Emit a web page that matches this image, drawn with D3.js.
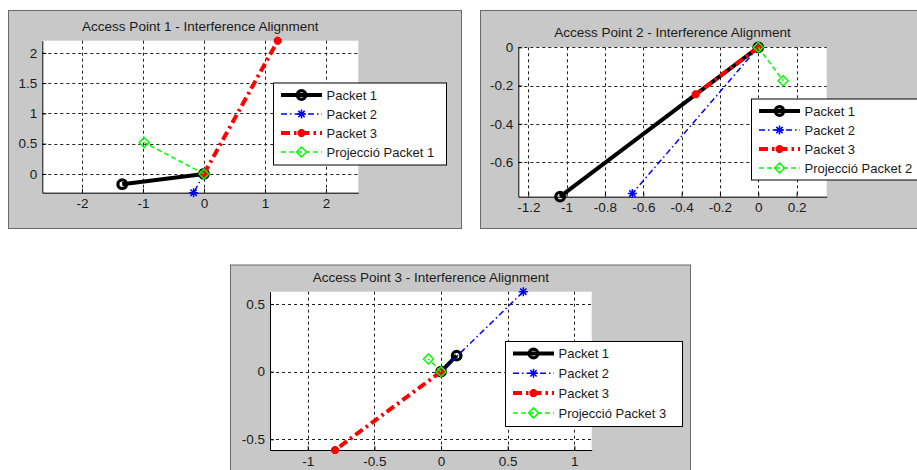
<!DOCTYPE html>
<html>
<head>
<meta charset="utf-8">
<script src="https://cdn.jsdelivr.net/npm/d3@7"></script>
<style>
  body { margin: 0; background: #fff; }
  svg text { font-family: "Liberation Sans", Arial, sans-serif; fill: #1a1a1a; }
</style>
</head>
<body>
<svg id="chart" width="917" height="470"></svg>
<script>
// vector end points (every vector starts at the origin)
// order: Packet 1, Packet 2, Packet 3, Projecció
let ap1X = [-1.34, -0.17, 1.21, -0.98];
let ap1Y = [-0.17, -0.31, 2.2, 0.52];
let ap2X = [-1.034, -0.657, -0.327, 0.13];
let ap2Y = [-0.781, -0.764, -0.246, -0.175];
let ap3X = [0.117, 0.617, -0.795, -0.095];
let ap3Y = [0.118, 0.591, -0.579, 0.094];

// axis limits and ticks
let ap1XLim = [-2.65, 2.53], ap1YLim = [-0.31, 2.2];
let ap2XLim = [-1.252, 0.357], ap2YLim = [-0.781, 0];
let ap3XLim = [-1.283, 1.13], ap3YLim = [-0.579, 0.591];
let ap1XTicks = [-2, -1, 0, 1, 2], ap1YTicks = [0, 0.5, 1, 1.5, 2];
let ap2XTicks = [-1.2, -1, -0.8, -0.6, -0.4, -0.2, 0, 0.2], ap2YTicks = [-0.6, -0.4, -0.2, 0];
let ap3XTicks = [-1, -0.5, 0, 0.5, 1], ap3YTicks = [-0.5, 0, 0.5];

let seriesNames = ["Packet 1", "Packet 2", "Packet 3"];
let projNames = ["Projecció Packet 1", "Projecció Packet 2", "Projecció Packet 3"];
let titles = ["Access Point 1 - Interference Alignment", "Access Point 2 - Interference Alignment", "Access Point 3 - Interference Alignment"];

let styles = [
    {color: "#000000", width: 4, dash: null, marker: "circle"},
    {color: "#0000ff", width: 1.5, dash: "6,3,1.5,3", marker: "star"},
    {color: "#ff0000", width: 4, dash: "9,4,2.5,4", marker: "star"},
    {color: "#00ff00", width: 1.5, dash: "5,3", marker: "diamond"}
];

// layout: outer box, plot rect, legend rect  (x, y, w, h)
let panels = [
    {title: titles[0], xs: ap1X, ys: ap1Y, xLim: ap1XLim, yLim: ap1YLim, xTicks: ap1XTicks, yTicks: ap1YTicks, proj: projNames[0],
     box: [8, 10, 453, 218], plot: [42.3, 40.7, 316, 152], legend: [273, 82.5, 173, 82], gap: 19},
    {title: titles[1], xs: ap2X, ys: ap2Y, xLim: ap2XLim, yLim: ap2YLim, xTicks: ap2XTicks, yTicks: ap2YTicks, proj: projNames[1],
     box: [480, 10, 450, 218], plot: [518.3, 47.3, 308.4, 149.4], legend: [751, 98.5, 173, 81], gap: 19},
    {title: titles[2], xs: ap3X, ys: ap3Y, xLim: ap3XLim, yLim: ap3YLim, xTicks: ap3XTicks, yTicks: ap3YTicks, proj: projNames[2],
     box: [230, 264.5, 460, 230], plot: [270, 291.7, 321.7, 158.3], legend: [505, 341, 177, 85], gap: 19.8}
];

let svg = d3.select("#chart");

function drawMarker(g, kind, st, x, y){
    if(kind == "circle"){
        g.append("circle").attr("cx", x).attr("cy", y).attr("r", 4.3)
            .attr("fill", "none").attr("stroke", st.color).attr("stroke-width", 3.2);
    }else if(kind == "diamond"){
        let s = 5;
        g.append("path").attr("d", `M${x},${y-s}L${x+s},${y}L${x},${y+s}L${x-s},${y}Z`)
            .attr("fill", "none").attr("stroke", st.color).attr("stroke-width", 1.5);
    }else{
        let thick = st.width > 2;
        let s = thick ? 4 : 4.5, a = s * 0.7;
        g.append("path")
            .attr("d", `M${x-s},${y}H${x+s}M${x},${y-s}V${y+s}M${x-a},${y-a}L${x+a},${y+a}M${x-a},${y+a}L${x+a},${y-a}`)
            .attr("fill", "none").attr("stroke", st.color).attr("stroke-width", thick ? 3.5 : 1.5);
    }
}

function drawPanel(p){
    let g = svg.append("g");
    // grey figure box
    g.append("rect").attr("x", p.box[0] + 0.5).attr("y", p.box[1] + 0.5)
        .attr("width", p.box[2]).attr("height", p.box[3])
        .attr("fill", "#c8c8c8").attr("stroke", "#6a6a6a");

    let [px, py, pw, ph] = p.plot;
    let x = d3.scaleLinear().domain(p.xLim).range([px, px + pw]);
    let y = d3.scaleLinear().domain(p.yLim).range([py + ph, py]);

    g.append("rect").attr("x", px).attr("y", py).attr("width", pw).attr("height", ph).attr("fill", "#fff");

    // dotted grid
    g.append("g").selectAll("line").data(p.xTicks).join("line")
        .attr("x1", d => Math.round(x(d)) + 0.5).attr("x2", d => Math.round(x(d)) + 0.5)
        .attr("y1", py).attr("y2", py + ph)
        .attr("stroke", "#222").attr("stroke-dasharray", "3,3");
    g.append("g").selectAll("line").data(p.yTicks).join("line")
        .attr("y1", d => Math.round(y(d)) + 0.5).attr("y2", d => Math.round(y(d)) + 0.5)
        .attr("x1", px).attr("x2", px + pw)
        .attr("stroke", "#222").attr("stroke-dasharray", "3,3");

    // axes, ticks pointing inward
    let xAxis = g.append("g").attr("transform", `translate(0,${py + ph})`)
        .call(d3.axisBottom(x).tickValues(p.xTicks).tickFormat(d => String(d)).tickSizeInner(-4).tickSizeOuter(0).tickPadding(6));
    let yAxis = g.append("g").attr("transform", `translate(${px},0)`)
        .call(d3.axisLeft(y).tickValues(p.yTicks).tickFormat(d => String(d)).tickSizeInner(-4).tickSizeOuter(0).tickPadding(5));
    [xAxis, yAxis].forEach(a => {
        a.select(".domain").attr("stroke", "#000");
        a.selectAll(".tick line").attr("stroke", "#000");
        a.selectAll("text").attr("font-size", 13.5).attr("fill", "#1a1a1a")
            .attr("font-family", "Liberation Sans, Arial, sans-serif");
    });

    g.append("text").attr("x", px + pw / 2).attr("y", py - 10)
        .attr("text-anchor", "middle").attr("font-size", 13.5).text(p.title);

    // vectors from origin
    let line = d3.line().x(d => x(d[0])).y(d => y(d[1]));
    styles.forEach((st, i) => {
        let pts = [[0, 0], [p.xs[i], p.ys[i]]];
        g.append("path").attr("d", line(pts)).attr("fill", "none")
            .attr("stroke", st.color).attr("stroke-width", st.width)
            .attr("stroke-dasharray", st.dash);
        pts.forEach(d => drawMarker(g, st.marker, st, x(d[0]), y(d[1])));
    });

    // legend
    let [lx, ly, lw, lh] = p.legend;
    let lg = g.append("g");
    lg.append("rect").attr("x", lx + 0.5).attr("y", ly + 0.5).attr("width", lw).attr("height", lh)
        .attr("fill", "#fff").attr("stroke", "#000");
    let names = seriesNames.concat([p.proj]);
    styles.forEach((st, i) => {
        let cy = ly + 12.5 + i * p.gap;
        lg.append("line").attr("x1", lx + 8).attr("x2", lx + 49).attr("y1", cy).attr("y2", cy)
            .attr("stroke", st.color).attr("stroke-width", st.width).attr("stroke-dasharray", st.dash);
        drawMarker(lg, st.marker, st, lx + 28.5, cy);
        lg.append("text").attr("x", lx + 53.5).attr("y", cy).attr("dy", "0.36em")
            .attr("font-size", 13).text(names[i]);
    });
}

panels.forEach(drawPanel);
</script>
</body>
</html>
